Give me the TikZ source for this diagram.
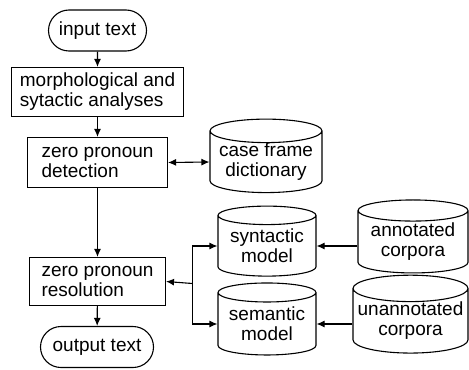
\documentclass[tikz,border=0pt]{standalone}
\usepackage{fontspec}
\setmainfont{Liberation Sans}
\usetikzlibrary{shapes.geometric,shapes.misc,arrows.meta}

\begin{document}
\begin{tikzpicture}[x=0.5pt,y=-0.5pt,
        every node/.style={font=\fontsize{9.5}{10}\selectfont,line width=0.55pt,inner sep=0pt},
        term/.style={draw,rounded rectangle,minimum height=20.5pt},
        proc/.style={draw,rectangle,align=left,minimum height=24.5pt},
        db/.style={draw,cylinder,shape border rotate=90,aspect=0.25,align=center},
        line/.style={draw,line width=0.55pt,-{Latex[length=4pt,width=3.5pt]}}]
        \useasboundingbox (0,0) rectangle (469,369);
        \node[term,minimum width=49pt] (in) at (97.5,30.5) {input text};
        \node[proc,minimum width=86pt] (morph) at (97.5,92) {morphological and\\sytactic analyses};
        \node[proc,minimum width=70pt,minimum height=25pt] (det) at (97.5,162.5) {zero pronoun\\detection};
        \node[proc,minimum width=68pt,minimum height=24pt] (res) at (97.5,281.5) {zero pronoun\\resolution};
        \node[term,minimum width=56.5pt] (out) at (97,347) {output text};
        \node[db,minimum width=56pt,minimum height=33pt] (cf) at (266,162) {case frame\\dictionary};
        \node[db,minimum width=49pt,minimum height=35pt] (syn) at (267,246) {syntactic\\model};
        \node[db,minimum width=49pt,minimum height=36pt] (sem) at (267,324) {semantic\\model};
        \node[db,minimum width=55pt,minimum height=36.5pt] (ann) at (413,242) {annotated\\corpora};
        \node[db,minimum width=57.5pt,minimum height=37.5pt] (unann) at (410.5,321) {unannotated\\corpora};
        \coordinate (jn) at (192.5,283.5);
        % main flow
        \draw[line] (in) -- (morph);
        \draw[line] (morph) -- (det);
        \draw[line] (det) -- (res);
        \draw[line] (res) -- (out);
        \draw[line,{Latex[length=4pt,width=3.5pt]}-{Latex[length=4pt,width=3.5pt]}] (det.east) -- (cf.west);
        % models
        \draw[line] (jn) -- (res.east);
        \draw[line] (jn) |- (syn.west);
        \draw[line] (jn) |- (sem.west);
        \draw[line] (ann.west |- syn.east) -- (syn.east);
        \draw[line] (unann.west |- sem.east) -- (sem.east);
\end{tikzpicture}
\end{document}
